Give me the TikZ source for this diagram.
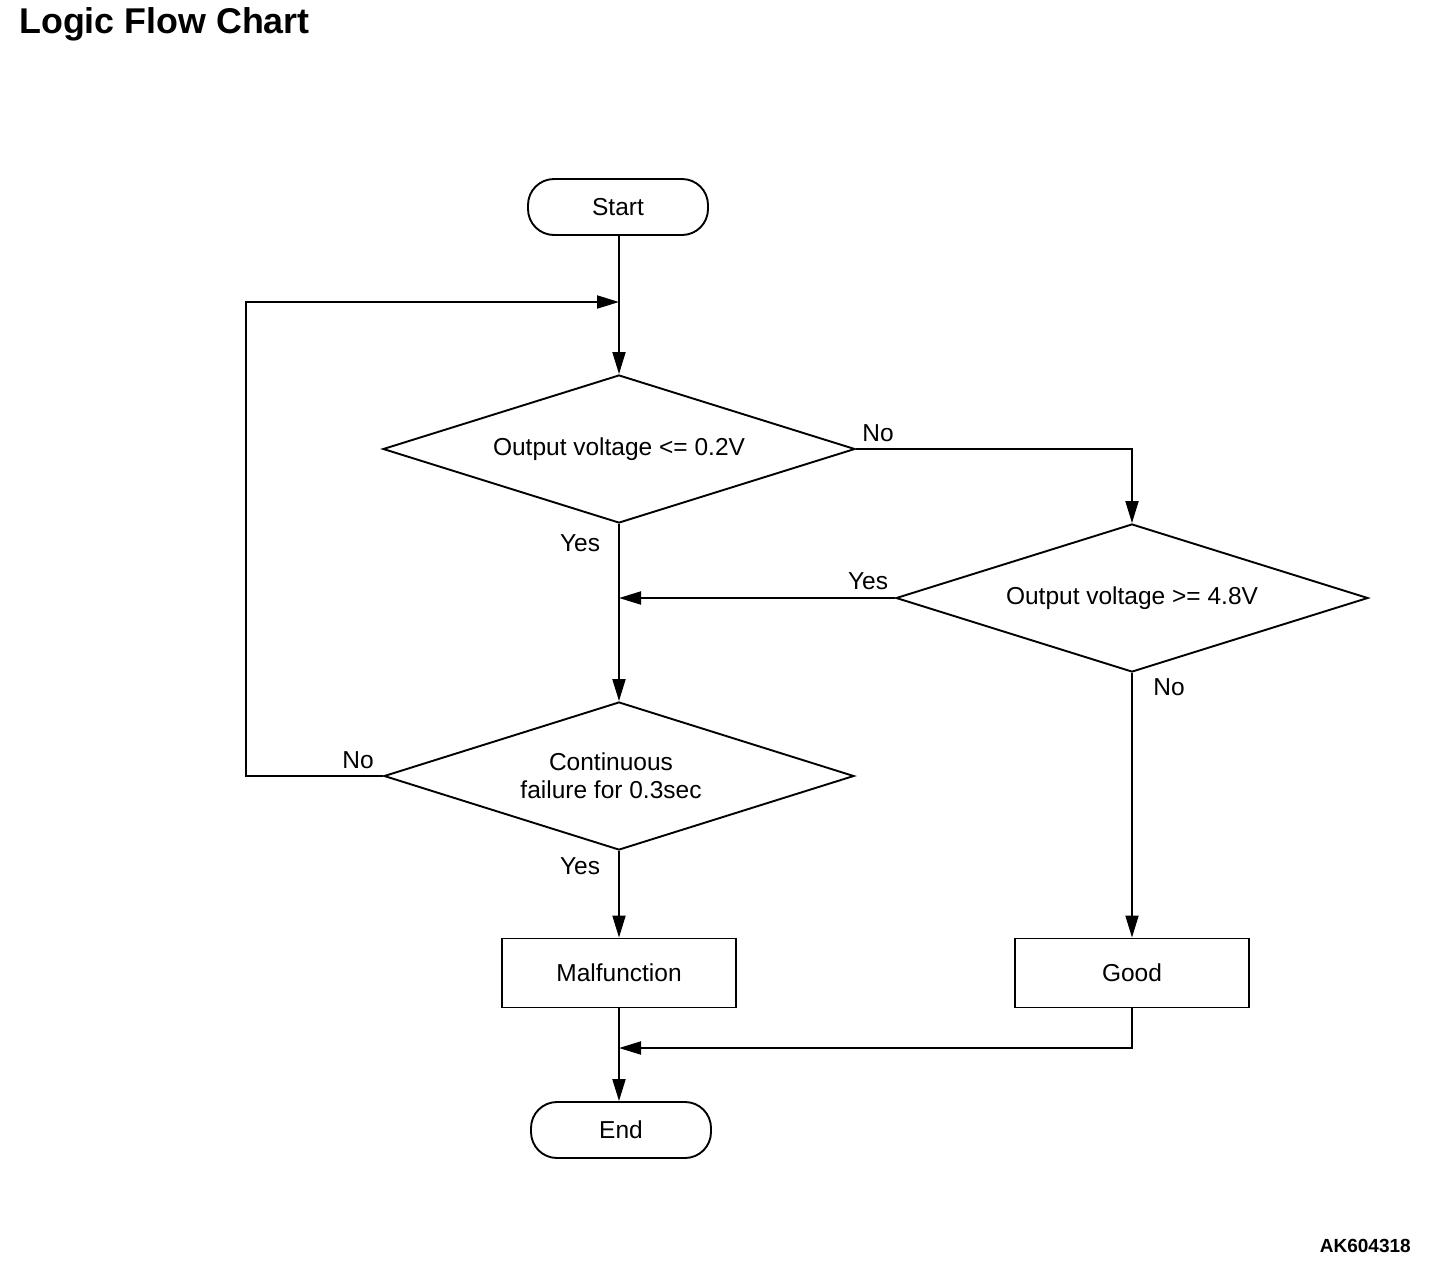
\documentclass[tikz,border=0pt]{standalone}
\usepackage{fontspec}
\setmainfont{Liberation Sans}
\usetikzlibrary{shapes.geometric,arrows.meta}

\begin{document}
\begin{tikzpicture}[x=1pt,y=-1pt,line width=1.9pt,
    every node/.style={font=\fontsize{24.5}{28}\selectfont},
    term/.style={draw,rounded corners=26pt,minimum width=180pt,minimum height=56pt},
    test/.style={draw,diamond,aspect=3.2,inner sep=0pt,align=center,minimum width=472pt,minimum height=148pt},
    act/.style={draw,minimum width=234pt,minimum height=69pt},
    arr/.style={-{Triangle[length=22pt,width=13pt]}}]
    \useasboundingbox (0,0) rectangle (1440,1264);

    % title and code
    \node[anchor=base west,font=\bfseries\fontsize{35.8}{41}\selectfont] (title) at (15,33) {Logic Flow Chart};
    \node[anchor=base east,font=\bfseries\fontsize{19}{22}\selectfont] (code) at (1415,1252) {AK604318};

    % blocks
    \node[term] (start) at (618,207) {Start};
    \node[test] (low) at (619,449) {Output voltage <= 0.2V};
    \node[test] (high) at (1132,598) {Output voltage >= 4.8V};
    \node[test,minimum width=470pt] (cont) at (619,776) {};
    \node[align=center] (conttext) at (611,776) {Continuous\\failure for 0.3sec};
    \node[act] (malf) at (619,973) {Malfunction};
    \node[act] (good) at (1132,973) {Good};
    \node[term] (end) at (621,1130) {End};

    % junctions
    \coordinate (j1) at (619,302);
    \coordinate (j3) at (619,1048);
    \coordinate (back) at (246,302);

    % labels
    \node (lowno) at (878,433) {No};
    \node (lowyes) at (580,543) {Yes};
    \node (highyes) at (868,581) {Yes};
    \node (highno) at (1169,687) {No};
    \node (contno) at (358,760) {No};
    \node (contyes) at (580,866) {Yes};

    % connectors
    \draw[arr] (start.south -| j1) -- (low.north);
    \draw[arr] (cont.west) -| (back) -- (j1);
    \draw[arr] (low.east) -| (high.north);
    \draw[arr] (high.west) -- (high.west -| j1);
    \draw[arr] (low.south) -- (cont.north);
    \draw[arr] (cont.south) -- (malf.north);
    \draw[arr] (high.south) -- (good.north);
    \draw[arr] (good.south) |- (j3);
    \draw[arr] (malf.south) -- (malf.south |- end.north);
\end{tikzpicture}
\end{document}
